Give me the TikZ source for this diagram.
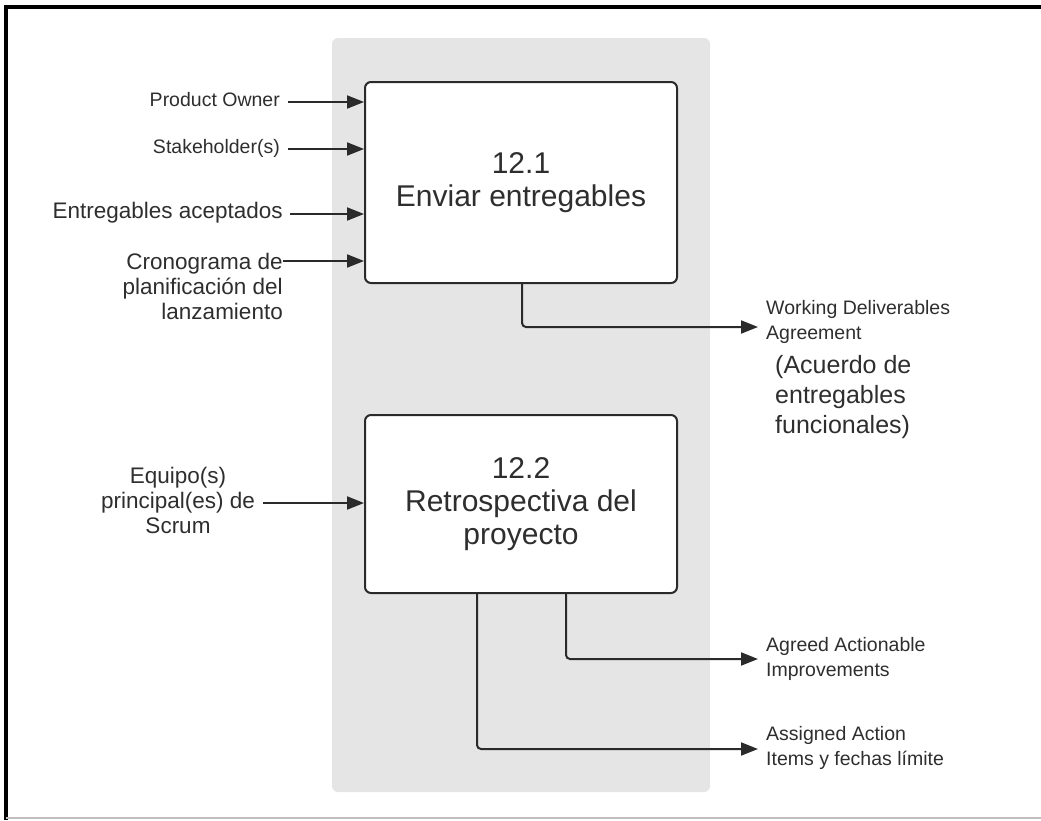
\documentclass[tikz,border=0pt]{standalone}
\usepackage{fontspec}
\setmainfont{Liberation Sans}
\usetikzlibrary{arrows.meta}
\definecolor{txt}{HTML}{2E2E2E}
\definecolor{ln}{HTML}{2A2A2A}
\definecolor{panel}{HTML}{E5E5E5}
\tikzset{
  arr/.style={draw=ln, line width=2pt, -{Triangle[length=17pt,width=13pt]}},
  procbox/.style={draw=ln, line width=2pt, rounded corners=6pt, fill=white, inner sep=0pt,
    minimum width=312pt, align=center, text=txt, font=\fontsize{30}{33}\selectfont},
  smalllbl/.style={inner sep=0pt, text=txt, font=\fontsize{19.5}{25.5}\selectfont},
  medlbl/.style={inner sep=0pt, text=txt, font=\fontsize{22.5}{25}\selectfont},
  biglbl/.style={inner sep=0pt, text=txt, font=\fontsize{25}{30}\selectfont},
}
\begin{document}
\begin{tikzpicture}[x=1pt,y=-1pt]
\useasboundingbox (0,0) rectangle (1041,820);
% frame
\draw[line width=4pt] (6,820) -- (6,7) -- (1041,7);
\draw[gray!50, line width=1.2pt] (6,818) -- (1041,818);
% panel
\fill[panel, rounded corners=6pt] (332,38) rectangle (710,792);
% boxes
\node[procbox, minimum height=201pt] (b1) at (521,182.5) {12.1\\Enviar entregables};
\node[procbox, minimum height=178pt] (b2) at (521,504) {12.2\\Retrospectiva del\\proyecto};
% input labels
\node[smalllbl, anchor=east] (po) at (280,100) {Product Owner};
\node[smalllbl, anchor=east] (sh) at (280,148) {Stakeholder(s)};
\node[medlbl, anchor=east] (ea) at (283,213) {Entregables aceptados};
\node[medlbl, anchor=east, align=right] (cr) at (283,286) {Cronograma de\\planificación del\\lanzamiento};
\node[medlbl, align=center] (eq) at (178,500) {Equipo(s)\\principal(es) de\\Scrum};
\coordinate (poin) at (288,102);
\coordinate (shin) at (288,149);
\coordinate (eain) at (290,214);
\coordinate (crin) at (283,261);
\coordinate (eqin) at (263,503);
\draw[arr] (poin) -- (poin -| b1.west);
\draw[arr] (shin) -- (shin -| b1.west);
\draw[arr] (eain) -- (eain -| b1.west);
\draw[arr] (crin) -- (crin -| b1.west);
\draw[arr] (eqin) -- (eqin -| b2.west);
% outputs
\coordinate (o1) at (758,327);
\coordinate (o2) at (758,659);
\coordinate (o3) at (758,749);
\draw[arr, rounded corners=4pt] ([xshift=1pt]b1.south) |- (o1);
\draw[arr, rounded corners=4pt] ([xshift=45pt]b2.south) |- (o2);
\draw[arr, rounded corners=4pt] ([xshift=-44pt]b2.south) |- (o3);
\node[smalllbl, anchor=west, align=left] (wd) at (766,322) {Working Deliverables\\Agreement};
\node[biglbl, anchor=west, align=left] (ac) at (775,397) {(Acuerdo de\\entregables\\funcionales)};
\node[smalllbl, anchor=west, align=left] (ag) at (766,659) {Agreed Actionable\\Improvements};
\node[smalllbl, anchor=west, align=left] (as) at (766,748) {Assigned Action\\Items y fechas límite};
\end{tikzpicture}
\end{document}
